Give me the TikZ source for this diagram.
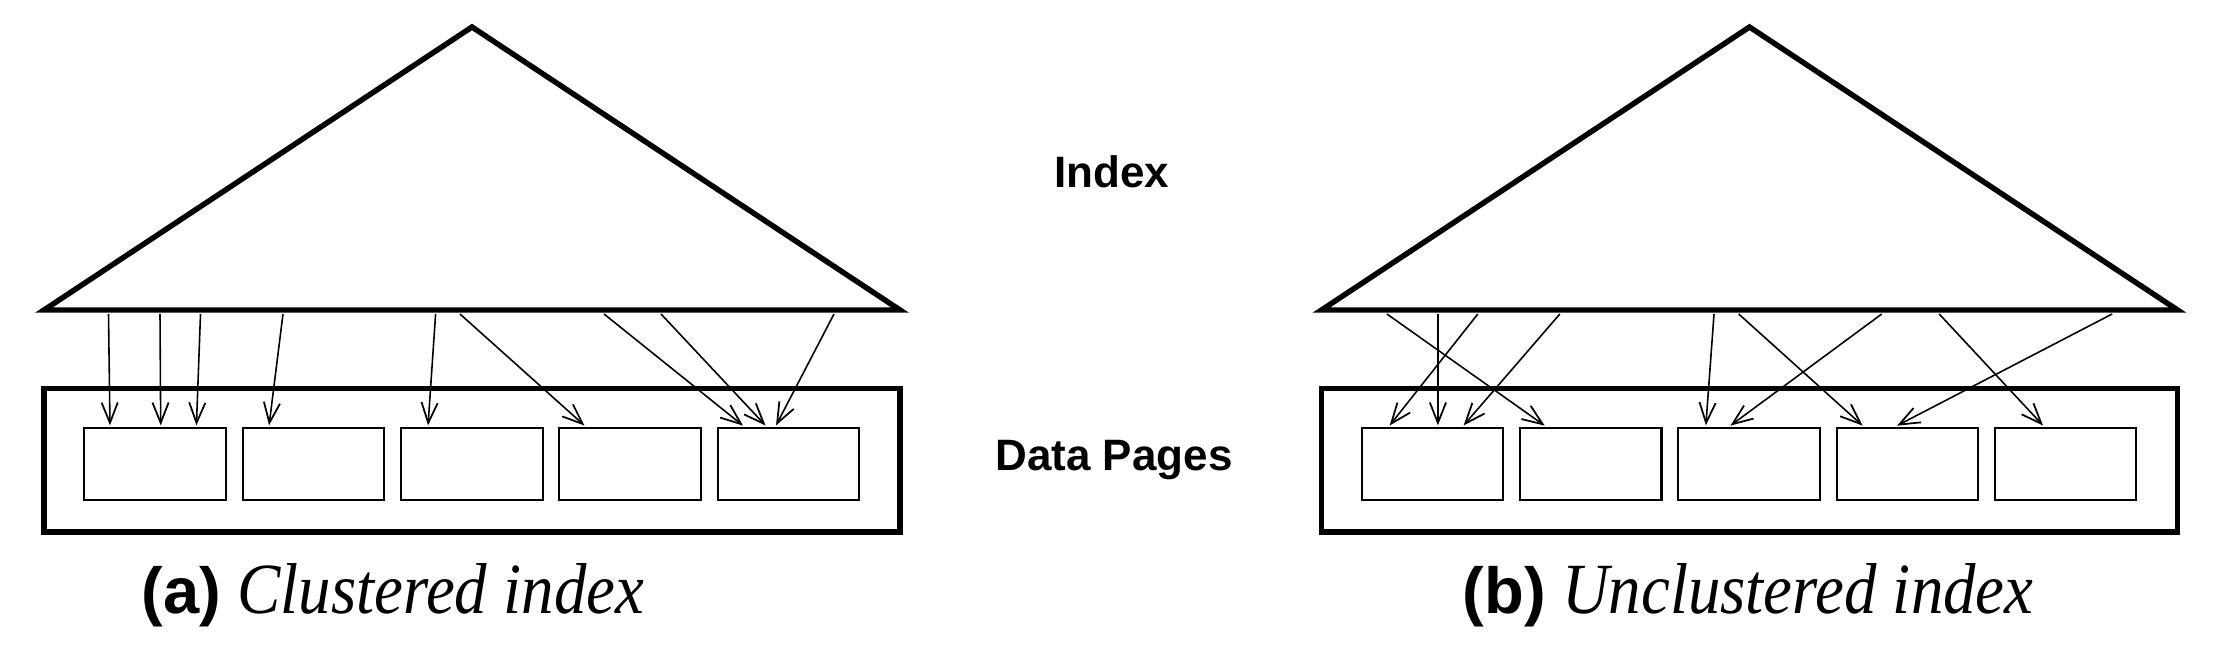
\documentclass[tikz,border=0pt]{standalone}
\usepackage{fontspec}
\usepackage{graphicx}
\setmainfont{Liberation Serif}
\setsansfont{Liberation Sans}
\usetikzlibrary{arrows.meta}
\newcommand{\capital}[1]{\scalebox{0.9}[1]{\fontsize{20.5pt}{24pt}\selectfont\itshape #1}}
\begin{document}
\begin{tikzpicture}[x=0.01cm,y=-0.01cm,
  thickline/.style={line width=1.55pt,line join=miter},
  pagebox/.style={draw,line width=0.6pt,minimum width=141.5*0.01cm,minimum height=72*0.01cm,inner sep=0pt,anchor=north west},
  ptr/.style={line width=0.45pt,-{Straight Barb[length=5.8pt,width=4.6pt,line width=0.5pt]},shorten >=0.2pt},
  lbl/.style={font=\sffamily\bfseries\fontsize{12.5pt}{14pt}\selectfont,anchor=base,inner sep=0pt},
  captext/.style={font=\fontsize{18.5pt}{22pt}\selectfont,anchor=base west,inner sep=0pt}]
\useasboundingbox (0,0) rectangle (2219,645);

% ---------- (a) clustered ----------
\draw[thickline] (44,310) -- (472,27) -- (900,310) -- cycle;
\draw[thickline] (44,388.5) rectangle (900,532);
\foreach \i/\xx in {1/83.3,2/241.6,3/400,4/558.3,5/716.6}
  \node[pagebox] (a\i) at (\xx,426.5) {};

\foreach \n/\sx/\ex in {1/108.5/110,2/160/160.7,3/200.5/196.4,4/283/269,5/435.6/428,6/460/585,7/604/743.5,8/661/766,9/834/775.7}{
  \coordinate (as\n) at (\sx,314);
  \coordinate (ae\n) at (\ex,426);
  \draw[ptr] (as\n) -- (ae\n);
}

% ---------- (b) unclustered ----------
\draw[thickline] (1321.5,310) -- (1749.5,27) -- (2177.5,310) -- cycle;
\draw[thickline] (1321.5,388.5) rectangle (2177.5,532);
\foreach \i/\xx in {1/1360.6,2/1518.9,3/1677.2,4/1835.5,5/1993.8}
  \node[pagebox] (b\i) at (\xx,426.5) {};

\foreach \n/\sx/\ex in {1/1386.9/1545.2,2/1437.9/1437.9,3/1477.8/1389.2,4/1559.8/1463.1,5/1714/1705.8,6/1738.7/1863,7/1881.7/1729.9,8/1939.2/2043.5,9/2112.1/1896.4}{
  \coordinate (bs\n) at (\sx,314);
  \coordinate (be\n) at (\ex,426);
  \draw[ptr] (bs\n) -- (be\n);
}

% ---------- labels ----------
\node[lbl] (idx) at (1112,187) {Index};
\node[lbl] (dp) at (1114,470) {Data Pages};
\node[captext] (capa) at (141,613) {{\sffamily\bfseries (a)} \capital{Clustered index}};
\node[captext] (capb) at (1462,613) {{\sffamily\bfseries (b)} \capital{Unclustered index}};
\end{tikzpicture}
\end{document}
